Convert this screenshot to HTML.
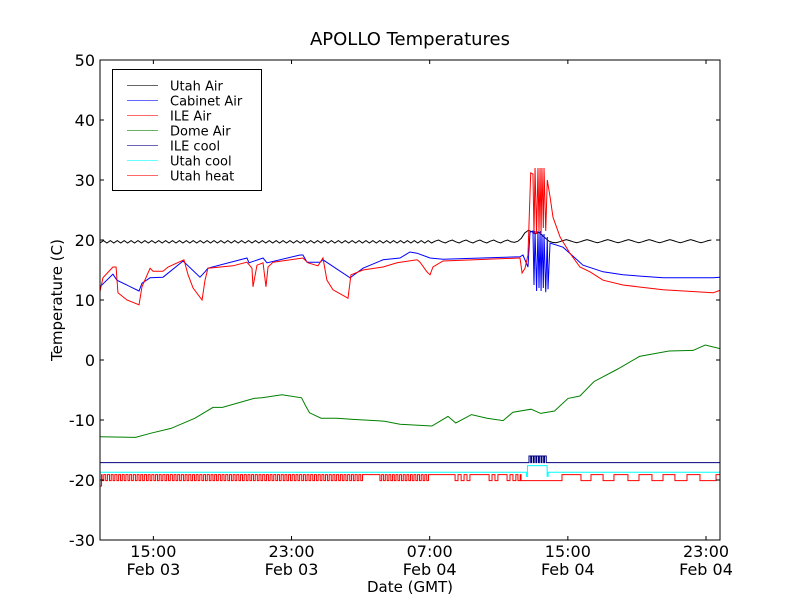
<!DOCTYPE html>
<html><head><meta charset="utf-8"><style>
body{margin:0;background:#fff}
svg{display:block;font-family:"DejaVu Sans","Liberation Sans",sans-serif}
</style></head><body>
<svg id="chart" width="800" height="600" viewBox="0 0 800 600">
<rect width="800" height="600" fill="#fff"/>
<text x="410" y="45" font-size="18" text-anchor="middle">APOLLO Temperatures</text>
<text x="62" y="300" font-size="15" text-anchor="middle" transform="rotate(-90 62 300)">Temperature (C)</text>
<text x="410" y="592" font-size="15" text-anchor="middle">Date (GMT)</text>
<g id="series"></g>
<g id="axes"></g>
<g id="legend"></g>
</svg>
<script>
// time in hours since 00:00 Feb 03 (GMT)
const xDomain = [11.91, 47.81];
const yDomain = [-30, 50];
const yTicks = [-30, -20, -10, 0, 10, 20, 30, 40, 50];
const xTicks = [15, 23, 31, 39, 47];
const xTickTimes = ["15:00", "23:00", "07:00", "15:00", "23:00"];
const xTickDates = ["Feb 03", "Feb 03", "Feb 04", "Feb 04", "Feb 04"];

const utahAirStart = 11.91, utahAirStep = 0.2;
const utahAirV = [
19.5,19.9,19.5,19.9,19.5,19.9,19.5,19.9,19.5,19.9,19.5,19.9,19.5,19.9,19.5,19.9,19.5,19.9,19.5,19.9,
19.5,19.9,19.5,19.9,19.5,19.9,19.5,19.9,19.5,19.9,19.5,19.9,19.5,19.9,19.5,19.9,19.5,19.9,19.5,19.9,
19.5,19.9,19.5,19.9,19.5,19.9,19.5,19.9,19.5,19.9,19.5,19.9,19.5,19.9,19.5,19.9,19.5,19.9,19.5,19.9,
19.5,19.9,19.5,19.9,19.5,19.9,19.5,19.9,19.5,19.9,19.5,19.9,19.5,19.9,19.5,19.9,19.5,19.9,19.5,19.9,
19.5,19.9,19.5,19.9,19.5,19.9,19.5,19.9,19.5,19.9,19.5,19.9,19.5,19.9,19.5,19.9,
19.5,19.8,20.0,19.7,19.5,19.8,20.0,19.7,19.5,19.8,20.0,19.7,19.5,19.8,20.0,19.7,19.5,19.8,20.0,19.7,
19.5,19.8,20.0,19.7,19.6,19.8,
20.3,21.2,21.6,21.4,21.0,21.3,20.8,20.3,
19.8,19.6,19.55,19.7,19.9,20.05,19.9,19.7,19.55,19.7,19.9,20.05,19.9,19.7,19.55,19.7,19.9,20.05,19.9,19.7,
19.55,19.7,19.9,20.05,19.9,19.7,19.55,19.7,19.9,20.05,19.9,19.7,19.55,19.7,19.9,20.05,19.9,19.7,19.55,19.7,
19.9,20.05,19.9,19.7,19.55,19.7,19.9,20.0];

const cabinetT = [11.91,12.66,12.89,14.17,14.34,14.81,15.56,16.72,17.70,17.99,18.16,20.42,20.54,21.35,21.58,23.49,23.66,23.90,24.65,24.82,26.39,27.14,28.30,29.28,29.86,30.27,31.02,31.77,36.23,36.40,36.69,36.81,36.98,37.04,37.10,37.19,37.27,37.33,37.39,37.45,37.50,37.58,37.62,37.72,37.81,37.85,37.97,38.72,39.88,41.04,42.19,44.51,47.41,47.81];
const cabinetV = [12.2,14.3,13.3,11.5,12.8,13.7,13.8,16.5,13.8,14.7,15.3,17,16.2,17,16.2,17.5,17.5,16.3,16.3,16.7,13.7,15.3,16.7,17,18,17.8,17,16.8,17.2,17.5,15.5,21.3,21.5,12.5,21.5,11.5,21.5,12,21.5,11.5,21,12,21,11.3,20.5,11.8,19.5,18.8,15.8,14.7,14.2,13.7,13.7,13.8];

const ileAirT = [11.91,12.08,12.66,12.84,12.95,13.47,14.17,14.34,14.81,14.98,15.56,15.85,16.77,17.01,17.30,17.82,17.99,18.16,19.61,20.42,20.71,20.77,21.00,21.35,21.52,21.64,21.93,23.66,23.95,24.53,24.82,25.05,25.40,26.27,26.44,27.14,28.30,29.11,30.27,30.44,30.84,31.02,31.19,31.77,36.23,36.35,36.52,36.69,36.85,36.98,37.04,37.10,37.19,37.27,37.33,37.39,37.45,37.50,37.58,37.62,37.72,37.81,37.97,38.14,38.55,39.12,39.70,40.28,41.04,42.19,44.51,47.41,47.70,47.81];
const ileAirV = [11.4,13.7,15.5,15.5,11.2,10,9.2,12.2,15.3,14.8,14.8,15.5,16.7,14.2,12,10,13.3,15.3,15.7,16.3,15.3,12.2,15.8,16.2,12.2,15.5,16.3,17,16.2,15.7,17,13.3,11.7,10.3,14.2,15,15.5,16.2,16.7,16.3,14.7,14.2,15.5,16.5,17,14.5,15.3,17.5,31.2,31,21,32,21,32,21.5,32,21,32,22,32,21.5,30,27.2,23.8,20.5,17.8,15.5,14.7,13.3,12.5,11.7,11.2,11.5,11.6];

const domeT = [11.91,13.97,14.86,16.02,17.41,18.45,19.00,20.83,21.29,22.45,23.58,23.81,24.04,24.71,25.63,26.56,28.39,29.28,31.13,32.06,32.51,33.42,34.32,35.25,35.82,36.87,37.43,38.23,39.01,39.70,40.51,41.89,43.15,44.86,46.25,46.96,47.81];
const domeV = [-12.8,-12.9,-12.2,-11.4,-9.7,-7.9,-7.9,-6.4,-6.3,-5.8,-6.3,-7.6,-8.8,-9.7,-9.7,-9.9,-10.2,-10.7,-11,-9.4,-10.5,-9.1,-9.7,-10.1,-8.7,-8.2,-8.9,-8.5,-6.4,-6,-3.6,-1.5,0.6,1.5,1.6,2.5,1.9];

const ileCoolT = [11.91,36.75,36.85,36.9,37.0,37.05,37.15,37.2,37.3,37.35,37.45,37.5,37.6,37.65,37.75,37.8];
const ileCoolV = [-17.1,-16,-17.1,-16,-17.1,-16,-17.1,-16,-17.1,-16,-17.1,-16,-17.1,-16,-17.1,-17.1];

const utahCoolT = [11.91,36.60,36.66,37.80,37.86];
const utahCoolV = [-18.7,-19.4,-17.6,-19.4,-18.7];

const heatOff = -19.1, heatOn = -20.1;
const heatStart = [11.91,
12.03,12.24,12.46,12.67,12.89,13.10,13.31,13.53,13.74,13.96,14.17,14.38,14.60,14.81,15.03,15.24,15.45,15.67,15.88,16.10,16.31,16.52,16.74,16.95,17.17,17.38,17.59,17.81,18.02,18.24,18.45,18.66,18.88,19.09,19.31,19.52,19.73,19.95,20.16,20.38,20.59,20.80,21.02,21.23,21.45,21.66,21.87,22.09,22.30,22.52,22.73,22.94,23.16,23.37,23.59,23.80,24.01,24.23,24.44,24.66,24.87,25.08,25.30,25.51,25.73,25.94,26.15,26.37,26.58,26.80,27.01,
28.12,28.33,28.54,28.75,28.95,29.16,29.37,29.58,29.79,29.99,30.20,30.41,30.62,30.83,
32.47,32.82,33.16,34.44,34.78,35.48,35.82,36.11,
36.29,39.76,41.04,42.48,43.87,45.20,46.65];
const heatEnd = [12.0,
12.13,12.34,12.56,12.77,12.99,13.20,13.41,13.63,13.84,14.06,14.27,14.48,14.70,14.91,15.13,15.34,15.55,15.77,15.98,16.20,16.41,16.62,16.84,17.05,17.27,17.48,17.69,17.91,18.12,18.34,18.55,18.76,18.98,19.19,19.41,19.62,19.83,20.05,20.26,20.48,20.69,20.90,21.12,21.33,21.55,21.76,21.97,22.19,22.40,22.62,22.83,23.04,23.26,23.47,23.69,23.90,24.11,24.33,24.54,24.76,24.97,25.18,25.40,25.61,25.83,26.04,26.25,26.47,26.68,26.90,27.11,
28.22,28.43,28.64,28.85,29.05,29.26,29.47,29.68,29.89,30.09,30.30,30.51,30.72,30.93,
32.64,32.99,33.33,34.61,34.95,35.65,35.99,36.24,
38.66,40.34,41.67,43.12,44.51,45.90,47.58];

const L = 100, R = 720, T = 60, B = 540;
function xs(t){ return L + (t - xDomain[0]) / (xDomain[1] - xDomain[0]) * (R - L); }
function ys(v){ return B - (v - yDomain[0]) / (yDomain[1] - yDomain[0]) * (B - T); }
const NS = "http://www.w3.org/2000/svg";
const svg = document.getElementById('chart');
const gS = document.getElementById('series');
const gA = document.getElementById('axes');
const gL = document.getElementById('legend');

const clip = document.createElementNS(NS, 'clipPath');
clip.setAttribute('id', 'plotclip');
const cr = document.createElementNS(NS, 'rect');
cr.setAttribute('x', L); cr.setAttribute('y', T); cr.setAttribute('width', R - L); cr.setAttribute('height', B - T);
clip.appendChild(cr); svg.appendChild(clip);
gS.setAttribute('clip-path', 'url(#plotclip)');

function addPath(d, color, name){
  const p = document.createElementNS(NS, 'path');
  p.setAttribute('d', d);
  p.setAttribute('fill', 'none');
  p.setAttribute('stroke', color);
  p.setAttribute('stroke-width', '1');
  
  
  gS.appendChild(p);
}
function lineD(ts, vs){ return ts.map((t, i) => (i ? 'L' : 'M') + xs(t).toFixed(2) + ' ' + ys(vs[i]).toFixed(2)).join(' '); }
function stepD(ts, vs, tEnd){
  let d = 'M' + xs(ts[0]).toFixed(2) + ' ' + ys(vs[0]).toFixed(2);
  for (let i = 1; i < ts.length; i++){
    d += ' L' + xs(ts[i]).toFixed(2) + ' ' + ys(vs[i-1]).toFixed(2) + ' L' + xs(ts[i]).toFixed(2) + ' ' + ys(vs[i]).toFixed(2);
  }
  d += ' L' + xs(tEnd).toFixed(2) + ' ' + ys(vs[vs.length-1]).toFixed(2);
  return d;
}

const heatT = [], heatV = [];
for (let i = 0; i < heatStart.length; i++){
  heatT.push(heatStart[i]); heatV.push(i === 0 ? -21 : heatOn);
  heatT.push(heatEnd[i]); heatV.push(heatOff);
}
const utahAirT = utahAirV.map((v, i) => utahAirStart + i * utahAirStep);

addPath(stepD(heatT, heatV, xDomain[1]), '#ff0000', 'utah-heat-line');
addPath(stepD(utahCoolT, utahCoolV, xDomain[1]), '#00ffff', 'utah-cool-line');
addPath(stepD(ileCoolT, ileCoolV, xDomain[1]), '#000080', 'ile-cool-line');
addPath(lineD(domeT, domeV), '#008000', 'dome-air-line');
addPath(lineD(utahAirT, utahAirV), '#000000', 'utah-air-line');
addPath(lineD(cabinetT, cabinetV), '#0000ff', 'cabinet-air-line');
addPath(lineD(ileAirT, ileAirV), '#ff0000', 'ile-air-line');

const frame = document.createElementNS(NS, 'rect');
frame.setAttribute('x', L); frame.setAttribute('y', T); frame.setAttribute('width', R - L); frame.setAttribute('height', B - T);
frame.setAttribute('fill', 'none'); frame.setAttribute('stroke', '#000'); frame.setAttribute('stroke-width', '1');


gA.appendChild(frame);

yTicks.forEach(v => {
  const y = ys(v);
  const tk = document.createElementNS(NS, 'path');
  tk.setAttribute('d', `M${L} ${y} L${L+4} ${y} M${R} ${y} L${R-4} ${y}`);
  tk.setAttribute('stroke', '#000');
  
  
  gA.appendChild(tk);
  const tx = document.createElementNS(NS, 'text');
  tx.setAttribute('x', L - 5); tx.setAttribute('y', y + 6);
  tx.setAttribute('font-size', '16'); tx.setAttribute('text-anchor', 'end');
  tx.textContent = v;
  
  
  gA.appendChild(tx);
});
xTicks.forEach((t, i) => {
  const x = xs(t);
  const tk = document.createElementNS(NS, 'path');
  tk.setAttribute('d', `M${x} ${B} L${x} ${B-4} M${x} ${T} L${x} ${T+4}`);
  tk.setAttribute('stroke', '#000');
  
  
  gA.appendChild(tk);
  [xTickTimes[i], xTickDates[i]].forEach((s, j) => {
    const tx = document.createElementNS(NS, 'text');
    tx.setAttribute('x', x); tx.setAttribute('y', 557 + j * 18);
    tx.setAttribute('font-size', '16'); tx.setAttribute('text-anchor', 'middle');
    tx.textContent = s;
    
    
    gA.appendChild(tx);
  });
});

const legNames = ["Utah Air", "Cabinet Air", "ILE Air", "Dome Air", "ILE cool", "Utah cool", "Utah heat"];
const legColors = ["#000000", "#0000ff", "#ff0000", "#008000", "#000080", "#00ffff", "#ff0000"];
const lb = document.createElementNS(NS, 'rect');
lb.setAttribute('x', 112.5); lb.setAttribute('y', 69.5); lb.setAttribute('width', 149); lb.setAttribute('height', 121);
lb.setAttribute('fill', '#fff'); lb.setAttribute('stroke', '#000');


gL.appendChild(lb);
legNames.forEach((n, i) => {
  const y = 85.5 + i * 15;
  const g = document.createElementNS(NS, 'g');
  
  
  const ln = document.createElementNS(NS, 'line');
  ln.setAttribute('x1', 127); ln.setAttribute('x2', 158); ln.setAttribute('y1', y); ln.setAttribute('y2', y);
  ln.setAttribute('stroke', legColors[i]); ln.setAttribute('stroke-opacity', '0.6');
  
  
  const tx = document.createElementNS(NS, 'text');
  tx.setAttribute('x', 170); tx.setAttribute('y', y + 5);
  tx.setAttribute('font-size', '13');
  tx.textContent = n;
  
  
  g.appendChild(ln); g.appendChild(tx);
  gL.appendChild(g);
});
</script>
</body></html>
